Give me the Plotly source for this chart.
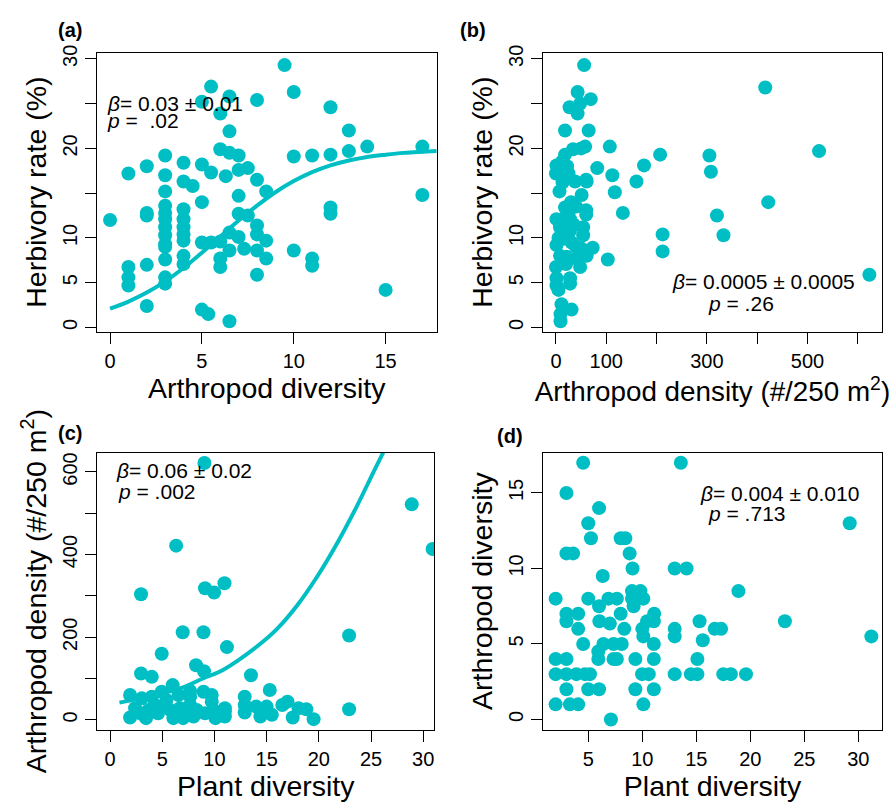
import plotly.graph_objects as go

W, H = 893, 802
TEAL = "#00BFC4"

# ---------------- data ----------------
# (a) herbivory rate vs arthropod diversity
a_div = [0, 1, 1, 1, 1, 2, 2, 2, 2, 2,
         3, 3, 3, 3, 3, 3, 3, 3, 3, 3, 3, 3, 3,
         4, 4, 4, 4, 4, 4, 4, 4, 4, 4.5,
         5, 5, 5, 5, 5, 5.35, 5.5, 5.5, 5.5,
         6, 6, 6, 6, 6,
         6.5, 6.5, 6.5, 6.3, 6.5, 6.5, 6.5,
         7, 7, 7, 7, 7, 7.3, 7.5, 7.5,
         8, 8, 8, 8, 8, 8, 8.5, 8.5, 8.5,
         9.5, 10, 10, 10, 11, 11, 11, 12, 12, 12, 12,
         13, 13, 14, 15, 17, 17]
a_herb = [12.0, 17.2, 6.75, 5.6, 4.7, 18.0, 12.8, 12.5, 7.0, 2.4,
          19.2, 17.0, 15.2, 13.6, 12.8, 12.1, 11.2, 10.3, 9.3, 9.0, 7.6, 5.6, 4.9,
          18.4, 16.3, 13.2, 12.1, 11.2, 10.4, 9.7, 8.0, 7.1, 15.8,
          25.2, 18.2, 14.0, 9.5, 2.0, 1.5, 17.3, 26.9, 9.5,
          19.9, 23.9, 7.7, 6.75, 9.6,
          25.8, 21.9, 19.5, 16.9, 10.6, 8.6, 0.7,
          19.2, 17.6, 14.7, 12.7, 10.1, 8.8, 17.8, 12.5,
          25.4, 16.5, 11.4, 10.4, 8.6, 5.9, 15.2, 9.7, 7.7,
          29.3, 26.3, 19.1, 8.6, 19.2, 7.7, 6.9, 24.6, 19.3, 13.4, 12.7,
          22.0, 19.7, 20.2, 4.2, 20.2, 14.8]
a_fit_x = [0, 1, 2, 3, 4, 5, 6, 7, 8, 9, 10, 11, 12, 13, 14, 15, 16, 17, 17.8]
a_fit_y = [2.1, 2.9, 3.9, 5.15, 6.65, 8.35, 10.15, 11.95, 13.6, 15.1, 16.35,
           17.35, 18.1, 18.65, 19.05, 19.3, 19.5, 19.62, 19.7]

# (b) herbivory rate vs arthropod density
b_dens = [416, 523, 623, 422, 305, 308, 320, 333, 207, 212, 212, 175, 160, 133,
          117, 112, 107, 103, 82, 73, 65, 56, 69, 58, 60, 51, 60, 60, 54, 54,
          43, 27, 43, 18, 34, 18, 1, 0, 25, 13, 7, 38, 61, 18, 28, 1, 15, 28,
          8, 28, 1, 15, 31, 41, 51, 61, 20, 0, 1, 1, 5, 28, 28, 11, 31, 9, 9,
          21, 48, 8, 15, 35, 20, 5, 40, 12, 22, 50, 48, 30, 40]
b_herb = [26.8, 19.7, 5.9, 14.0, 19.2, 17.4, 12.5, 10.3, 19.3, 10.4, 8.5, 18.1,
          16.3, 12.8, 15.1, 17.0, 20.2, 7.6, 17.8, 8.9, 22.0, 29.3, 25.5, 20.2,
          16.5, 14.8, 13.1, 12.6, 11.2, 10.3, 26.3, 24.6, 23.9, 22.0, 19.9, 19.3,
          18.1, 17.2, 17.2, 16.2, 15.2, 16.3, 16.3, 13.4, 13.2, 12.1, 12.1, 12.1,
          11.2, 10.8, 9.2, 9.9, 9.5, 7.7, 8.8, 8.0, 7.1, 6.75, 5.5, 4.7, 4.2, 5.5,
          4.9, 2.6, 2.0, 1.5, 0.7, 7.9, 6.75, 8.0, 11.0, 11.5, 10.5, 10.0, 9.0,
          18.5, 18.0, 20.0, 25.0, 14.0, 13.5]

# (c) arthropod density vs plant diversity
c_plant = [9.04, 28.9, 30.9, 6.33, 2.97, 9.1, 9.97, 10.96, 22.9, 22.9, 6.96, 8.95,
           11.2, 4.95, 8.24, 9.0, 2.97, 4.0, 13.5, 15.3, 6.0, 4.95, 1.92, 3.04,
           4.0, 6.55, 7.67, 8.95, 9.74, 12.9, 12.9, 14.0, 15.0, 16.5, 17.0, 18.05,
           18.8, 17.5, 19.5, 14.4, 15.5, 12.9, 11.0, 11.0, 10.1, 9.9, 9.1, 8.3,
           7.67, 7.0, 6.7, 6.07, 5.75, 5.27, 4.6, 4.3, 3.45, 2.9, 2.4, 1.92, 3.7,
           7.35, 8.0, 5.4, 7.67, 9.74, 11.0]
c_dens = [621.6, 521.6, 413.6, 421.6, 304, 318.4, 308, 330.4, 204, 25.6, 212, 212,
          176, 160, 132, 117.6, 112, 104, 108, 72, 84, 68, 60, 52,
          56, 60, 56, 68, 60, 56, 36, 32, 32, 36, 44, 28,
          25.6, 5.6, 1.6, 8, 12, 17.6, 8, 28, 4, 24, 16, 24,
          36, 4, 28, 4, 24, 32, 16, 36, 4, 16, 28, 5.6, 24,
          16, 8, 48, 70, 44, 20]
c_fit_x = [0.9, 2.9, 6.7, 8.9, 10.9, 14.1, 16.0, 17.9, 19.8, 21.7, 23.6, 25.2, 26.3, 26.8]
c_fit_y = [41.6, 52, 76, 100, 122, 178, 220, 276, 345, 425, 515, 598, 655, 690]

# (d) arthropod diversity vs plant diversity
d_plant = [4.53, 13.57, 2.98, 6.0, 5.0, 29.2, 5.25, 8.0, 8.43, 8.83, 9.1, 2.98, 3.6,
           13.0, 14.1, 6.34, 18.9, 1.98, 5.0, 6.87, 7.65, 9.05, 9.83, 9.05, 10.1,
           9.2, 6.0, 2.98, 4.07, 2.98, 4.07, 8.0, 11.1, 6.03, 7.0, 8.33, 10.45,
           11.07, 10.0, 10.1, 15.3, 16.7, 17.3, 23.2, 31.2, 13.0, 13.0, 15.6, 4.53,
           6.4, 7.34, 8.1, 11.07, 5.93, 5.93, 7.34, 7.65, 1.98, 2.98, 9.36, 11.07,
           15.1, 1.98, 2.98, 3.9, 4.7, 5.16, 9.98, 10.6, 13.0, 14.5, 15.1, 17.5,
           18.2, 19.6, 2.98, 5.0, 6.0, 9.36, 11.07, 1.98, 3.3, 4.07, 10.1, 7.1]
d_arth = [17, 17, 15, 14, 13, 13, 12, 12, 12, 11, 10, 11, 11,
          10, 10, 9.5, 8.5, 8, 8, 8, 8, 8.5, 8.5, 8, 8,
          7.5, 7.5, 7, 7, 6.5, 6, 7, 7, 6.5, 6.35, 6, 6.5,
          6.5, 6, 5.5, 6.5, 6, 6, 6.5, 5.5, 6, 5.5, 5.25, 5,
          5, 5, 5, 5, 4.5, 4, 4, 4, 4, 4, 4, 4,
          4, 3, 3, 3, 3, 3, 3, 3, 3, 3, 3, 3,
          3, 3, 2, 2, 2, 2, 2, 1, 1, 1, 1, 0]

# tick definitions (labelled ticks, plus unlabelled ticks)
a_xticks = [0, 5, 10, 15]
herb_ticks = [0, 5, 10, 20, 30]
herb_minor = [15, 25]
b_xticks = [0, 100, 300, 500]
b_xminor = [200, 400, 600]
c_xticks = [0, 5, 10, 15, 20, 25, 30]
c_yticks = [0, 200, 400, 600]
c_yminor = [100, 300, 500]
d_xticks = [5, 10, 15, 20, 25, 30]
d_yticks = [0, 5, 10, 15]

# ---------------- layout helpers ----------------
def fx(px):
    return px / W

def fy(py):
    return 1 - py / H

FONT = "Liberation Sans, Arial, Helvetica, sans-serif"
TICKF = dict(family=FONT, size=20, color="black")
TITLEF = dict(family=FONT, size=28.5, color="black")
TITLEF_B = dict(family=FONT, size=27.8, color="black")

fig = go.Figure()

panels = [
    ("a", a_div, a_herb, "x", "y"),
    ("b", b_dens, b_herb, "x2", "y2"),
    ("c", c_plant, c_dens, "x3", "y3"),
    ("d", d_plant, d_arth, "x4", "y4"),
]
for name, xs, ys, xa, ya in panels:
    fig.add_trace(go.Scatter(x=xs, y=ys, mode="markers", xaxis=xa, yaxis=ya,
                             marker=dict(color=TEAL, size=14, line=dict(width=0)),
                             showlegend=False, hoverinfo="skip"))

fig.add_trace(go.Scatter(x=a_fit_x, y=a_fit_y, mode="lines", xaxis="x", yaxis="y",
                         line=dict(color=TEAL, width=4, shape="spline"),
                         showlegend=False, hoverinfo="skip"))
fig.add_trace(go.Scatter(x=c_fit_x, y=c_fit_y, mode="lines", xaxis="x3", yaxis="y3",
                         line=dict(color=TEAL, width=4, shape="spline"),
                         showlegend=False, hoverinfo="skip"))


def base_axis(domain, rng, tickvals, minor, title, anchor, standoff, tfont=TITLEF):
    ax = dict(domain=domain, range=rng, tickmode="array", tickvals=tickvals,
              anchor=anchor, showgrid=False, zeroline=False, showline=True,
              mirror=True, linecolor="black", linewidth=1, ticks="outside",
              ticklen=11, tickwidth=1, tickcolor="black", tickfont=TICKF,
              ticklabelstandoff=0,
              title=dict(text=title, font=tfont, standoff=standoff))
    if minor:
        ax["minor"] = dict(tickmode="array", tickvals=minor, ticks="outside",
                           ticklen=11, tickwidth=1, tickcolor="black", showgrid=False)
    return ax


def xax(domain, rng, tickvals, minor, title, anchor, tfont=TITLEF):
    return base_axis(domain, rng, tickvals, minor, title, anchor, 0, tfont)


def yax(domain, rng, tickvals, minor, title, anchor):
    ax = base_axis(domain, rng, tickvals, minor, title, anchor, 4)
    ax["tickangle"] = -90
    return ax


top_dom = [fy(327), fy(45)]
bot_dom = [fy(729), fy(449)]
left_dom = [fx(97), fx(436.5)]
left_dom_c = [fx(97.3), fx(434.3)]
right_dom = [fx(543.3), fx(881.7)]

fig.update_layout(
    width=W, height=H,
    margin=dict(l=0, r=0, t=0, b=0),
    paper_bgcolor="white", plot_bgcolor="white",
    xaxis=xax(left_dom, [-0.71, 17.77], a_xticks, None, "Arthropod diversity", "y"),
    yaxis=yax(top_dom, [-0.47, 30.7], herb_ticks, herb_minor, "Herbivory rate (%)", "x"),
    xaxis2=xax(right_dom, [-25.2, 647.5], b_xticks, b_xminor,
               "Arthropod density (#/250 m<sup>2</sup>)", "y2", TITLEF_B),
    yaxis2=yax(top_dom, [-0.47, 30.7], herb_ticks, herb_minor, "Herbivory rate (%)", "x2"),
    xaxis3=xax(left_dom_c, [-1.22, 31.06], c_xticks, None, "Plant diversity", "y3"),
    yaxis3=yax(bot_dom, [-24, 647], c_yticks, c_yminor,
               "Arthropod density (#/250 m<sup>2</sup>)", "x3"),
    xaxis4=xax(right_dom, [0.84, 32.16], d_xticks, None, "Plant diversity", "y4"),
    yaxis4=yax(bot_dom, [-0.68, 17.68], d_yticks, None, "Arthropod diversity", "x4"),
)

STATF = dict(family=FONT, size=21, color="black")
LABF = dict(family=FONT, size=20, color="black")


def note(text, x, y, font, xanchor="left"):
    fig.add_annotation(text=text, x=fx(x), y=fy(y), xref="paper", yref="paper",
                       xanchor=xanchor, yanchor="middle", showarrow=False, font=font)


note("<i>β</i>= 0.03 ± 0.01", 105, 96, STATF)
note("<i>p</i> =  .02", 105, 114, STATF)
note("<i>β</i>= 0.0005 ± 0.0005", 670, 276, STATF)
note("<i>p</i> = .26", 706, 298, STATF)
note("<i>β</i>= 0.06 ± 0.02", 114, 467, STATF)
note("<i>p</i> = .002", 116, 488, STATF)
note("<i>β</i>= 0.004 ± 0.010", 698, 490, STATF)
note("<i>p</i> = .713", 706, 511, STATF)

note("<b>(a)</b>", 70, 22, LABF, "center")
note("<b>(b)</b>", 473, 22, LABF, "center")
note("<b>(c)</b>", 70, 429, LABF, "center")
note("<b>(d)</b>", 510, 432, LABF, "center")

fig.write_html("out.html", config={"displayModeBar": False},
               post_script="document.body.style.margin='0';"
                           "document.body.style.overflow='hidden';")
